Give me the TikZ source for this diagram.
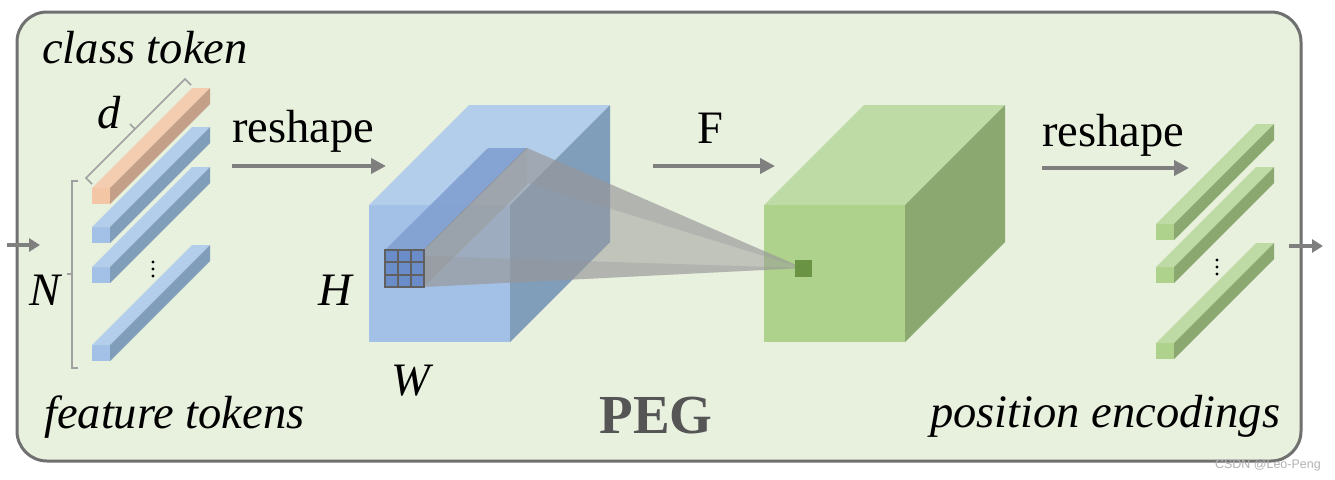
\documentclass[tikz,border=0pt]{standalone}
\usepackage{fontspec}
\setmainfont{Liberation Serif}
\newfontfamily\wmfont{Liberation Sans}
\usetikzlibrary{arrows.meta}
\definecolor{bgbox}{HTML}{E8F0DE}
\definecolor{boxline}{HTML}{707070}
\definecolor{arrowgray}{HTML}{7F7F7F}
\definecolor{brk}{HTML}{A0A0A0}
\definecolor{orfront}{HTML}{F3C6A6}
\definecolor{ortop}{HTML}{F4CDB0}
\definecolor{orside}{HTML}{C4A088}
\definecolor{blfront}{HTML}{A3C1E7}
\definecolor{bltop}{HTML}{B3CEEB}
\definecolor{blside}{HTML}{809DBA}
\definecolor{grfront}{HTML}{AED18B}
\definecolor{grtop}{HTML}{BFDBA5}
\definecolor{grside}{HTML}{8AA870}
\definecolor{coltop}{HTML}{7F9DCF}
\definecolor{cellfill}{HTML}{6A8CC8}
\definecolor{gridline}{HTML}{606060}
\definecolor{conegray}{HTML}{999999}
\definecolor{dotgreen}{HTML}{6A9444}
\definecolor{peggray}{HTML}{555555}
\newcommand\tokbar[5]{%
  \fill[#3] (#1,#2) rectangle ++(18,16);
  \fill[#4] (#1,#2) -- ++(100,-100) -- ++(18,0) -- ++(-100,100) -- cycle;
  \fill[#5] (#1+18,#2) -- ++(100,-100) -- ++(0,16) -- ++(-100,100) -- cycle;
}
\newcommand\cuboid[4]{%
  \fill[#2] (#1,205) rectangle ++(141,137);
  \fill[#3] (#1,205) -- ++(100,-100) -- ++(141,0) -- ++(-100,100) -- cycle;
  \fill[#4] (#1+141,205) -- ++(100,-100) -- ++(0,137) -- ++(-100,100) -- cycle;
}
\tikzset{
  lbl/.style={font=\fontsize{46.5}{50}\selectfont\itshape, inner sep=0pt, anchor=base west},
  lblup/.style={font=\fontsize{46.5}{50}\selectfont, inner sep=0pt, anchor=base west},
  flow/.style={draw=arrowgray, line width=4pt, -{Triangle[length=15pt,width=15pt]}},
  bracketline/.style={draw=brk, line width=1.6pt}
}
\begin{document}
\begin{tikzpicture}[x=1pt,y=-1pt]
\useasboundingbox (0,0) rectangle (1335,479);
\fill[white] (0,0) rectangle (1335,479);
% outer box
\draw[draw=boxline, fill=bgbox, line width=3pt, rounded corners=30pt] (17,12) rectangle (1301,461);
% in/out arrows
\coordinate (inA) at (7,245); \coordinate (inB) at (40,245);
\draw[flow, line width=3.5pt, -{Triangle[length=11pt,width=13pt]}] (inA) -- (inB);
\coordinate (outA) at (1289,246); \coordinate (outB) at (1323,246);
\draw[flow, line width=3.5pt, -{Triangle[length=11pt,width=13pt]}] (outA) -- (outB);
% texts
\node[lbl] (cls) at (42,63) {class token};
\node[lbl] (feat) at (44,428) {feature tokens};
\node[lbl] (pos) at (930,427) {position encodings};
\node[lbl] (dl) at (97,128) {d};
\node[lbl] (Nl) at (29,305) {N};
\node[lbl] (Hl) at (318,305) {H};
\node[lbl] (Wl) at (391,395) {W};
\node[lblup] (rs1) at (232,142) {reshape};
\node[lblup] (Fl) at (697,143) {F};
\node[lblup] (rs2) at (1042,146) {reshape};
\node[font=\fontsize{55}{58}\selectfont\bfseries, text=peggray, inner sep=0pt, anchor=base] (peg) at (656,433) {PEG};
\node[font=\wmfont\fontsize{12.5}{14}\selectfont, text=black!30, inner sep=0pt, anchor=base east] (wm) at (1321,468) {CSDN @Leo-Peng};
% flow arrows
\coordinate (r1a) at (232,166); \coordinate (r1b) at (386,166);
\draw[flow] (r1a) -- (r1b);
\coordinate (fa) at (653,166); \coordinate (fb) at (775,166);
\draw[flow] (fa) -- (fb);
\coordinate (r2a) at (1042,168); \coordinate (r2b) at (1189,168);
\draw[flow] (r2a) -- (r2b);
% left tokens
\tokbar{92}{188}{orfront}{ortop}{orside}
\tokbar{92}{227}{blfront}{bltop}{blside}
\tokbar{92}{267}{blfront}{bltop}{blside}
\tokbar{92}{345}{blfront}{bltop}{blside}
\foreach \yy in {262,269,276} \fill (153,\yy) circle (1.6pt);
% N bracket
\draw[bracketline] (78,181) -- (72,181) -- (72,368) -- (78,368);
\draw[bracketline] (72,274) -- (67,274);
% d bracket
\draw[bracketline] (92,184) -- (86,178) -- (185,79) -- (191,85);
\draw[bracketline] (135,129) -- (130,124);
% right tokens
\tokbar{1156}{224}{grfront}{grtop}{grside}
\tokbar{1156}{267}{grfront}{grtop}{grside}
\tokbar{1156}{343}{grfront}{grtop}{grside}
\foreach \yy in {260,267,274} \fill (1217,\yy) circle (1.6pt);
% blue cube
\cuboid{369}{blfront}{bltop}{blside}
% green cube
\cuboid{764}{grfront}{grtop}{grside}
% kernel column
\fill[coltop, opacity=0.85] (385,250) -- (488,148) -- (527,148) -- (424,250) -- cycle;
\draw[gridline!70, line width=0.6pt] (424,250) -- (527,148);
% cone
\coordinate (tip) at (803,268);
\fill[conegray, opacity=0.5] (424,250) -- (527,148) -- (527,185) -- (424,287) -- cycle;
\fill[conegray, opacity=0.5] (527,148) -- (tip) -- (424,287) -- (424,250) -- cycle;
\fill[conegray, opacity=0.35] (527,148) -- (tip) -- (527,183) -- cycle;
\fill[conegray, opacity=0.35] (424,256) -- (tip) -- (424,287) -- cycle;
% grid
\fill[cellfill] (385,250) rectangle (424,287);
\draw[gridline, line width=2pt] (385,250) rectangle (424,287);
\draw[gridline, line width=2pt] (398,250) -- (398,287) (411,250) -- (411,287) (385,262.3) -- (424,262.3) (385,274.7) -- (424,274.7);
% green dot
\fill[dotgreen] (795,260) rectangle (812,277);
\end{tikzpicture}
\end{document}
